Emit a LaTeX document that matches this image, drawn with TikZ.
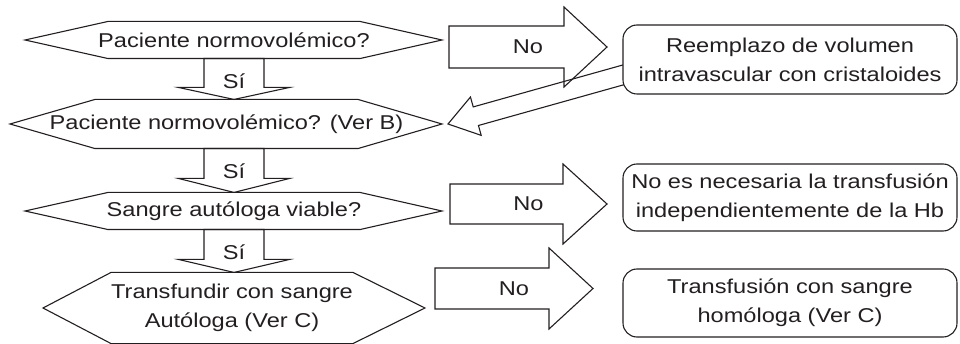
\documentclass[tikz,border=0pt]{standalone}
\usepackage{fontspec}
\setmainfont{Liberation Sans}[FakeStretch=1.18]
\usetikzlibrary{calc}
\definecolor{ink}{RGB}{35,31,32}
\tikzset{
  pregunta/.style={inner sep=0pt, align=center},
  caja/.style={draw, fill=white, rounded corners=14pt, minimum width=334pt, inner sep=0pt, align=center},
  etiq/.style={inner sep=0pt},
}
% contorno hexagonal: nodo, medio ancho, punta izquierda, punta derecha
\newcommand{\hexa}[4]{%
  \draw ($(#1.north)+(-#2,0)$) -- ($(#1.north)+(#2,0)$) -- ($(#1.center)+(#2+#4,0)$)
    -- ($(#1.south)+(#2,0)$) -- ($(#1.south)+(-#2,0)$) -- ($(#1.center)+(-#2-#3,0)$) -- cycle;}
% flecha de bloque: desde, hasta, medio cuerpo, media punta, largo punta
\newcommand{\flecha}[5]{%
  \coordinate (fb) at ($(#2)!#5!(#1)$);
  \draw ($(#1)!#3!90:(#2)$) -- ($(fb)!#3!90:(#2)$) -- ($(fb)!#4!90:(#2)$) -- (#2)
    -- ($(fb)!#4!-90:(#2)$) -- ($(fb)!#3!-90:(#2)$) -- ($(#1)!#3!-90:(#2)$) -- cycle;}

\begin{document}
\begin{tikzpicture}[x=1pt, y=-1pt, color=ink, line width=1.1pt, font=\fontsize{20}{29}\selectfont]
\useasboundingbox (0,0) rectangle (960,344);

% preguntas
\node[pregunta, minimum height=36pt] (q1) at (234,40) {Paciente normovolémico?};
\node[pregunta, minimum height=48pt] (q2) at (226.5,124) {Paciente normovolémico? (Ver B)};
\node[pregunta, minimum height=36pt] (q3) at (234,211) {Sangre autóloga viable?};
\node[pregunta, minimum height=70pt] (q4) at (232,308) {Transfundir con sangre\\Autóloga (Ver C)};
\hexa{q1}{126}{83}{82}
\hexa{q2}{131.5}{85}{84}
\hexa{q3}{126}{83}{82}
\hexa{q4}{121}{68}{72}

% vuelta hacia q2 (antes de r1, que la tapa)
\coordinate (v1a) at (630,73);  \coordinate (v1b) at (448,124);
\flecha{v1a}{v1b}{9.65pt}{19.9pt}{28.9pt}

% resultados
\node[caja, minimum height=69pt] (r1) at (790,59.5) {Reemplazo de volumen\\intravascular con cristaloides};
\node[caja, minimum height=67pt] (r2) at (790,197.5) {No es necesaria la transfusión\\independientemente de la Hb};
\node[caja, minimum height=68pt] (r3) at (790,303) {Transfusión con sangre\\homóloga (Ver C)};

% flechas Sí
\coordinate (s1a) at (q1.south);  \coordinate (s1b) at (q1.south |- q2.north);
\coordinate (s2a) at (q1.south |- q2.south);  \coordinate (s2b) at (q1.south |- q3.north);
\coordinate (s3a) at (q1.south |- q3.south);  \coordinate (s3b) at (q1.south |- q4.north);
\flecha{s1a}{s1b}{30pt}{55.5pt}{12pt}
\flecha{s2a}{s2b}{30pt}{55.5pt}{14pt}
\flecha{s3a}{s3b}{30pt}{55.5pt}{13pt}
\node[etiq, anchor=base] (si1) at ($(s1a)+(0,29.5)$) {Sí};
\node[etiq, anchor=base] (si2) at ($(s2a)+(0,29.5)$) {Sí};
\node[etiq, anchor=base] (si3) at ($(s3a)+(0,29.5)$) {Sí};

% flechas No
\coordinate (n1a) at (449,47);   \coordinate (n1b) at (607,47);
\coordinate (n2a) at (450,204);  \coordinate (n2b) at (607,204);
\coordinate (n3a) at (435,288.5);  \coordinate (n3b) at (593,288.5);
\flecha{n1a}{n1b}{21pt}{40pt}{43pt}
\flecha{n2a}{n2b}{20pt}{40pt}{44pt}
\flecha{n3a}{n3b}{20.5pt}{40.5pt}{44pt}
\node[etiq] (no1) at ($(n1a)!0.5!(n1b)$) {No};
\node[etiq] (no2) at ($(n2a)!0.5!(n2b)$) {No};
\node[etiq] (no3) at ($(n3a)!0.5!(n3b)$) {No};

\end{tikzpicture}
\end{document}
